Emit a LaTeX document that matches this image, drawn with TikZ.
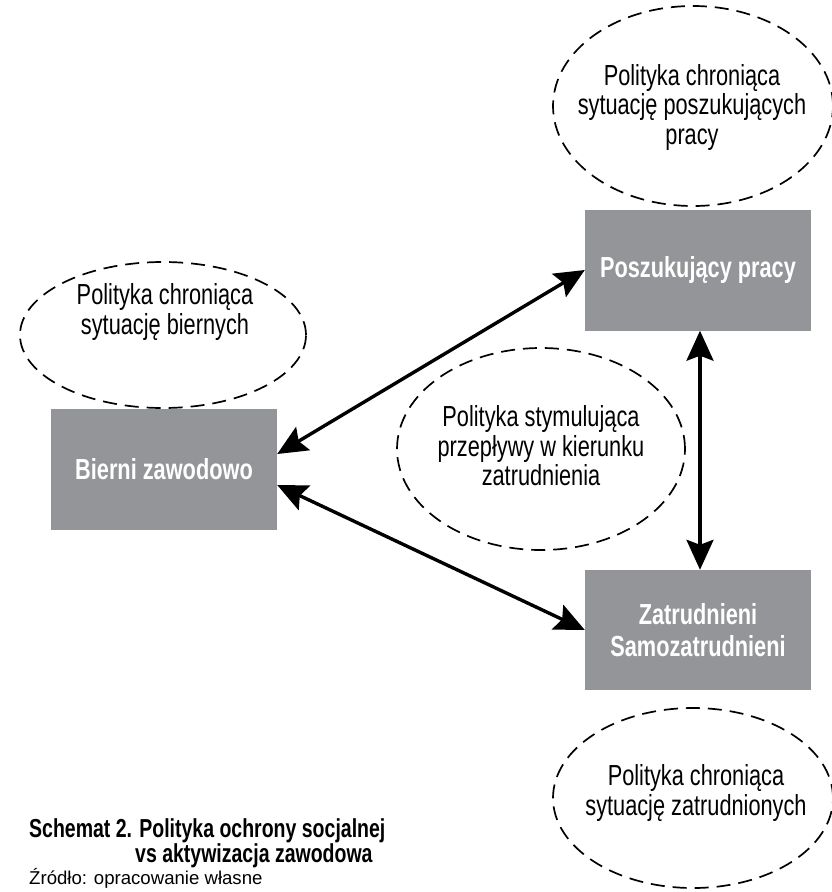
\documentclass[tikz,border=0pt]{standalone}
\usepackage{fontspec}
\setmainfont{Liberation Sans}[FakeStretch=0.75]
\newfontfamily\srcfont{Liberation Sans}
\usepackage{xcolor}
\usetikzlibrary{shapes.geometric, arrows.meta}
\definecolor{boxgray}{RGB}{147,149,152}

\begin{document}
\begin{tikzpicture}[
    x=1pt, y=-1pt,
    group/.style={rectangle, fill=boxgray, text=white, font=\fontsize{29}{32}\selectfont\bfseries, minimum width=226pt, minimum height=121pt, align=center, inner sep=0pt},
    policy/.style={ellipse, draw, dash pattern=on 14pt off 8pt, line width=1.7pt, inner sep=0pt},
    policytext/.style={font=\fontsize{29}{29.5}\selectfont, align=center},
    flow/.style={line width=3.4pt, {Stealth[length=30pt, width=27pt, inset=5pt]}-{Stealth[length=30pt, width=27pt, inset=5pt]}}
  ]
    \useasboundingbox (0,0) rectangle (832,892);

    % Policy ellipses
    \node[policy, minimum width=280pt, minimum height=200pt] (e1) at (693,106) {};
    \node[policy, minimum width=286pt, minimum height=146pt] (e2) at (163,335) {};
    \node[policy, minimum width=288pt, minimum height=202pt] (e3) at (541,449) {};
    \node[policy, minimum width=280pt, minimum height=180pt] (e4) at (693,798) {};

    \node[policytext] (t1) at (692,107) {Polityka chroniąca\\sytuację poszukujących\\pracy};
    \node[policytext] (t2) at (165,312) {Polityka chroniąca\\sytuację biernych};
    \node[policytext] (t3) at (541,446) {Polityka stymulująca\\przepływy w kierunku\\zatrudnienia};
    \node[policytext] (t4) at (696,793) {Polityka chroniąca\\sytuację zatrudnionych};

    % Groups
    \node[group] (pos) at (698,270) {Poszukujący pracy};
    \node[group] (bier) at (164,469) {Bierni zawodowo};
    \node[group, minimum height=120pt] (zat) at (698,630) {Zatrudnieni\\Samozatrudnieni};

    % Flows
    \draw[flow] ([yshift=15pt]bier.east) -- (pos.west);
    \draw[flow] ([yshift=-16pt]bier.east) -- (zat.west);
    \draw[flow] ([xshift=2pt]pos.south) -- ([xshift=2pt]zat.north);

    % Caption
    \node[anchor=base west, inner sep=0pt, font=\fontsize{26}{25}\selectfont\bfseries] (cap1) at (29,837) {Schemat 2. Polityka ochrony socjalnej};
    \node[anchor=base west, inner sep=0pt, font=\fontsize{26}{25}\selectfont\bfseries] (cap2) at (135,862) {vs aktywizacja zawodowa};
    \node[anchor=base west, inner sep=0pt, font=\srcfont\fontsize{18.6}{18}\selectfont] (src) at (29,884) {Źródło: opracowanie własne};

\end{tikzpicture}
\end{document}
